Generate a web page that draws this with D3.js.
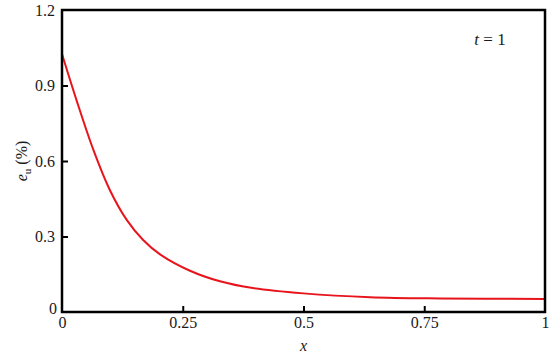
<!DOCTYPE html>
<html>
<head>
<meta charset="utf-8">
<script src="https://cdn.jsdelivr.net/npm/d3@7"></script>
<style>
  body { margin: 0; background: #fff; }
  svg, svg text { font-family: "Liberation Serif", "Times New Roman", serif; }
</style>
</head>
<body>
<script>
// curve
var xVals = [0, 0.03, 0.065, 0.099, 0.134, 0.168, 0.203, 0.265, 0.327, 0.395, 0.5, 0.638, 0.783, 1];
var yVals = [1.025, 0.842, 0.644, 0.485, 0.366, 0.286, 0.229, 0.164, 0.122, 0.095, 0.074, 0.059, 0.054, 0.052];
var xTicks = [0, 0.25, 0.5, 0.75, 1];
var xTickLabels = ["0", "0.25", "0.5", "0.75", "1"];
var yTicks = [0, 0.3, 0.6, 0.9, 1.2];
var yTickLabels = ["0", "0.3", "0.6", "0.9", "1.2"];

var W = 557, H = 358;
var margin = {left: 62, right: 12, top: 10, bottom: 46};

var svg = d3.select("body").append("svg").attr("width", W).attr("height", H);

var x = d3.scaleLinear().domain([0, 1]).range([margin.left, W - margin.right]);
var y = d3.scaleLinear().domain([0, 1.2]).range([H - margin.bottom, margin.top]);

var pts = xVals.map((d, i) => [d, yVals[i]]);

// curve
svg.append("path")
	.datum(pts)
	.attr("d", d3.line().x(d => x(d[0])).y(d => y(d[1])).curve(d3.curveCatmullRom.alpha(0.5)))
	.attr("fill", "none")
	.attr("stroke", "#e8141c")
	.attr("stroke-width", 2);

// ticks (inward)
var xAxis = d3.axisBottom(x).tickValues(xTicks).tickSizeInner(-6).tickSizeOuter(0)
	.tickFormat((d, i) => xTickLabels[i]);
var gx = svg.append("g").attr("transform", `translate(0,${y(0)})`).call(xAxis)
	.attr("font-family", null);
gx.select(".domain").remove();
gx.selectAll(".tick line").attr("stroke", "#000").attr("stroke-width", 2);
gx.selectAll(".tick text").attr("fill", "#1a1a1a").style("font-size", "16px").attr("y", 5);
gx.selectAll(".tick").filter(d => d === 0 || d === 1).select("line").remove();

var yAxis = d3.axisLeft(y).tickValues(yTicks).tickSizeInner(-6).tickSizeOuter(0)
	.tickFormat((d, i) => yTickLabels[i]);
var gy = svg.append("g").attr("transform", `translate(${x(0)},0)`).call(yAxis)
	.attr("font-family", null);
gy.select(".domain").remove();
gy.selectAll(".tick line").attr("stroke", "#000").attr("stroke-width", 2);
gy.selectAll(".tick text").attr("fill", "#1a1a1a").style("font-size", "16px").attr("x", -7);
gy.selectAll(".tick").filter(d => d === 0 || d === 1.2).select("line").remove();
gy.selectAll(".tick").filter(d => d === 0).select("text").attr("dy", "0.1em").attr("x", -5);

// frame
svg.append("rect")
	.attr("x", x(0)).attr("y", y(1.2))
	.attr("width", x(1) - x(0)).attr("height", y(0) - y(1.2))
	.attr("fill", "none").attr("stroke", "#000").attr("stroke-width", 2.5);

// axis titles
svg.append("text")
	.attr("x", (x(0) + x(1)) / 2).attr("y", 351)
	.attr("text-anchor", "middle")
	.style("font-size", "16px").style("font-style", "italic")
	.attr("fill", "#1a1a1a")
	.text("x");

var yl = svg.append("text")
	.attr("transform", `translate(27,${(y(0) + y(1.2)) / 2}) rotate(-90)`)
	.attr("text-anchor", "middle")
	.style("font-size", "16px")
	.attr("fill", "#1a1a1a");
yl.append("tspan").style("font-style", "italic").text("e");
yl.append("tspan").attr("dy", 4).style("font-size", "11px").text("u");
yl.append("tspan").attr("dy", -4).text(" (%)");

// annotation
var tl = svg.append("text")
	.attr("x", 490).attr("y", 45)
	.attr("text-anchor", "middle")
	.style("font-size", "17px")
	.attr("fill", "#1a1a1a");
tl.append("tspan").style("font-style", "italic").text("t");
tl.append("tspan").text(" = 1");
</script>
</body>
</html>
